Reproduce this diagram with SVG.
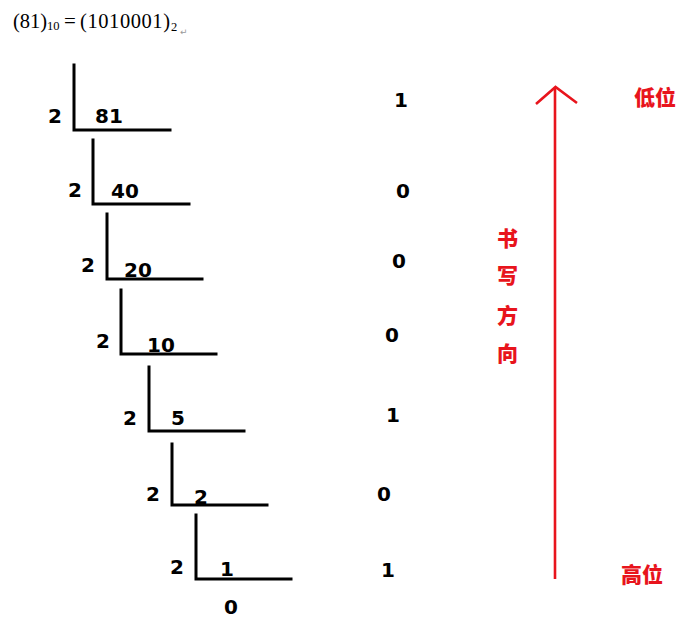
<svg xmlns="http://www.w3.org/2000/svg" width="691" height="628" viewBox="0 0 691 628">
<style>
.ln{stroke:#000;stroke-width:3;fill:none;stroke-linecap:square}
.d{font-family:"DejaVu Sans","Verdana",sans-serif;font-weight:bold;font-size:20px;fill:#000}
.t{font-family:"Liberation Serif","Times New Roman",serif;fill:#000}
.r{font-family:"Noto Sans CJK SC","Noto Sans CJK JP",sans-serif;font-weight:900;font-size:21px;fill:#e8141c}
.arr{stroke:#e8141c;stroke-width:2.6;fill:none}
</style>
<rect width="691" height="628" fill="#fff"/>
<g id="title">
<text class="t" x="13" y="28" font-size="20.5">(81)</text>
<text class="t" x="47" y="30" font-size="12.5">10</text>
<text class="t" x="64" y="28" font-size="21">=</text>
<text class="t" x="80" y="28" font-size="20.5" textLength="90" lengthAdjust="spacing">(1010001)</text>
<text class="t" x="171" y="31" font-size="12.5">2</text>
<text x="180" y="35" font-family="DejaVu Sans,sans-serif" font-size="9" fill="#999">↵</text>
</g>
<g id="step81">
<path class="ln" d="M74,65 V130 H170"/>
<text class="d" x="48" y="123">2</text>
<text class="d" x="95" y="123">81</text>
</g>
<g id="step40">
<path class="ln" d="M93,140 V204 H189"/>
<text class="d" x="68" y="197">2</text>
<text class="d" x="111" y="198">40</text>
</g>
<g id="step20">
<path class="ln" d="M107,214 V279 H202"/>
<text class="d" x="81" y="272">2</text>
<text class="d" x="124" y="277">20</text>
</g>
<g id="step10">
<path class="ln" d="M121,290 V354 H216"/>
<text class="d" x="96" y="348">2</text>
<text class="d" x="147" y="352">10</text>
</g>
<g id="step5">
<path class="ln" d="M149,367 V431 H244"/>
<text class="d" x="123" y="425">2</text>
<text class="d" x="171" y="425">5</text>
</g>
<g id="step2">
<path class="ln" d="M172,444 V505 H267"/>
<text class="d" x="146" y="501">2</text>
<text class="d" x="194" y="504">2</text>
</g>
<g id="step1">
<path class="ln" d="M196,515 V579 H291"/>
<text class="d" x="170" y="574">2</text>
<text class="d" x="220" y="576">1</text>
<text class="d" x="224" y="614">0</text>
</g>
<g id="remainders">
<text class="d" x="394" y="107">1</text>
<text class="d" x="396" y="198">0</text>
<text class="d" x="392" y="268">0</text>
<text class="d" x="385" y="342">0</text>
<text class="d" x="386" y="422">1</text>
<text class="d" x="377" y="501">0</text>
<text class="d" x="381" y="577">1</text>
</g>
<g id="connectors">
<path class="arr" d="M555,579 V88"/>
<path class="arr" d="M536,104 L555.5,87 L577,103"/>
</g>
<g id="labels">
<text class="r" x="634" y="105">低位</text>
<text class="r" x="621" y="582">高位</text>
<text class="r" x="497" y="246">书</text>
<text class="r" x="497" y="283">写</text>
<text class="r" x="497" y="323">方</text>
<text class="r" x="497" y="361">向</text>
</g>
</svg>
